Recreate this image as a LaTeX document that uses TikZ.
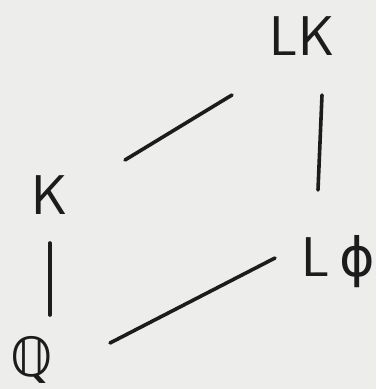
\documentclass[tikz,border=0pt]{standalone}
\usepackage{fontspec}
\newfontfamily\symfont{DejaVu Sans}
\begin{document}
\begin{tikzpicture}[x=1pt,y=-1pt,
  lab/.style={inner sep=1pt,font=\fontsize{56}{60}\selectfont\sffamily,text=ink},
  edge/.style={draw=ink,line width=3.6pt,line cap=round}]
\definecolor{ink}{HTML}{1C1C1C}
\definecolor{paper}{HTML}{EDEDEB}
\fill[paper] (0,0) rectangle (376,389);
\useasboundingbox (0,0) rectangle (376,389);
\node[lab] (LK) at (302,36) {LK};
\node[lab] (K) at (50,195) {K};
\node[lab] (Lphi) at (338,262) {L\,{\symfont\fontsize{54}{58}\selectfont ϕ}};
\node[lab] (Q) at (32,360) {{\symfont\fontsize{54}{58}\selectfont ℚ}};
\coordinate (a1) at (125,160); \coordinate (a2) at (232,95);
\coordinate (b1) at (322,95); \coordinate (b2) at (318,190);
\coordinate (c1) at (50,243); \coordinate (c2) at (50,315);
\coordinate (d1) at (110,343); \coordinate (d2) at (275,258);
\draw[edge] (a1) -- (a2);
\draw[edge] (b1) -- (b2);
\draw[edge] (c1) -- (c2);
\draw[edge] (d1) -- (d2);
\end{tikzpicture}
\end{document}
